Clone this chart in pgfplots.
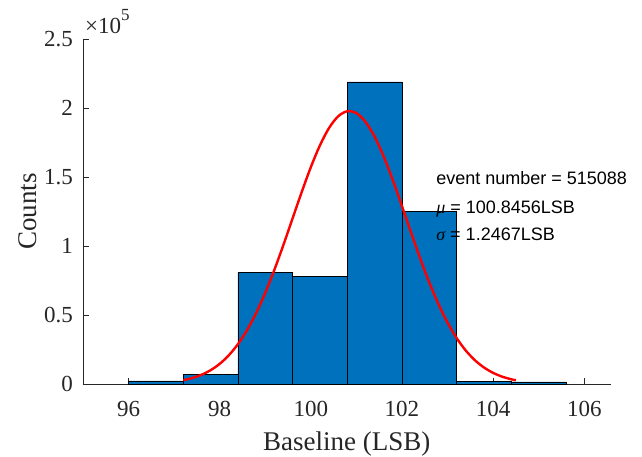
\documentclass[border=0pt]{standalone}
\usepackage{fontspec}
\setmainfont{Liberation Serif}
\newfontfamily\arial{Liberation Sans}
\usepackage{pgfplots}
\pgfplotsset{compat=1.18}
\definecolor{matblue}{RGB}{0,114,189}
\definecolor{axgray}{RGB}{38,38,38}
\begin{document}
\begin{tikzpicture}
\path[use as bounding box] (-83bp,-73bp) rectangle (559bp,384bp);
\begin{axis}[
  at={(0,0)}, anchor=south west,
  scale only axis, width=527.7bp, height=345bp,
  xmin=95, xmax=106.58, ymin=0, ymax=250000,
  axis x line=bottom, axis y line=left,
  axis line style={-, axgray, line width=0.6bp},
  every tick/.style={axgray, line width=0.6bp},
  tick align=inside, major tick length=6bp,
  xtick={96,98,100,102,104,106},
  xticklabels={96,98,100,102,104,106},
  ytick={0,50000,100000,150000,200000,250000},
  yticklabels={0,0.5,1,1.5,2,2.5},
  scaled y ticks=false,
  tick label style={font=\fontsize{23bp}{27bp}\selectfont, axgray},
  xticklabel style={anchor=base, inner sep=0pt, yshift=-32bp},
  yticklabel style={anchor=east, inner sep=0pt, xshift=-10bp},
  xlabel={Baseline (LSB)}, ylabel={Counts},
  every axis x label/.style={at={([yshift=-66.7bp]rel axis cs:0.5,0)}, anchor=base, inner sep=0pt, text=axgray, font=\fontsize{27bp}{32bp}\selectfont},
  every axis y label/.style={at={([xshift=-46.3bp]rel axis cs:0,0.5)}, anchor=base, rotate=90, inner sep=0pt, text=axgray, font=\fontsize{27bp}{32bp}\selectfont},
  clip=false,
]
\addplot[ybar interval, fill=matblue, draw=black, line width=0.5bp] coordinates {
  (96,2200) (97.2,7200) (98.4,81000) (99.6,78000) (100.8,219000) (102.0,125000) (103.2,2000) (104.4,1500) (105.6,0)
};
\addplot[red, line width=2.4bp, smooth, no markers] coordinates {
  (97.2,2751) (97.4,4340) (97.6,6676) (97.8,10005) (98.0,14617) (98.2,20813)
  (98.4,28879) (98.6,39058) (98.8,51478) (99.0,66125) (99.2,82773) (99.4,100983)
  (99.6,120077) (99.8,139152) (100.0,157150) (100.2,172980) (100.4,185560)
  (100.6,194000) (100.8,197670) (101.0,196290) (101.2,189970) (101.4,179180)
  (101.6,164710) (101.8,147560) (102.0,128830) (102.2,109640) (102.4,90921)
  (102.6,73487) (102.8,57886) (103.0,44440) (103.2,33254) (103.4,24247)
  (103.6,17232) (103.8,11935) (104.0,8054) (104.2,5299) (104.4,3398) (104.5,2694)
};
\node[anchor=base west, inner sep=0pt, text=axgray, font=\fontsize{23bp}{27bp}\selectfont] at ([xshift=2bp,yshift=6bp]rel axis cs:0,1) {×10\raisebox{0.55em}{\fontsize{17bp}{20bp}\selectfont 5}};
\node[anchor=base west, inner sep=0pt, font=\arial\fontsize{18bp}{21bp}\selectfont] at (axis cs:102.75,144700) {event number = 515088};
\node[anchor=base west, inner sep=0pt, font=\arial\fontsize{18bp}{21bp}\selectfont] at (axis cs:102.75,123700) {{\rmfamily\itshape μ} = 100.8456LSB};
\node[anchor=base west, inner sep=0pt, font=\arial\fontsize{18bp}{21bp}\selectfont] at (axis cs:102.75,104300) {{\rmfamily\itshape σ} = 1.2467LSB};
\end{axis}
\end{tikzpicture}
\end{document}
